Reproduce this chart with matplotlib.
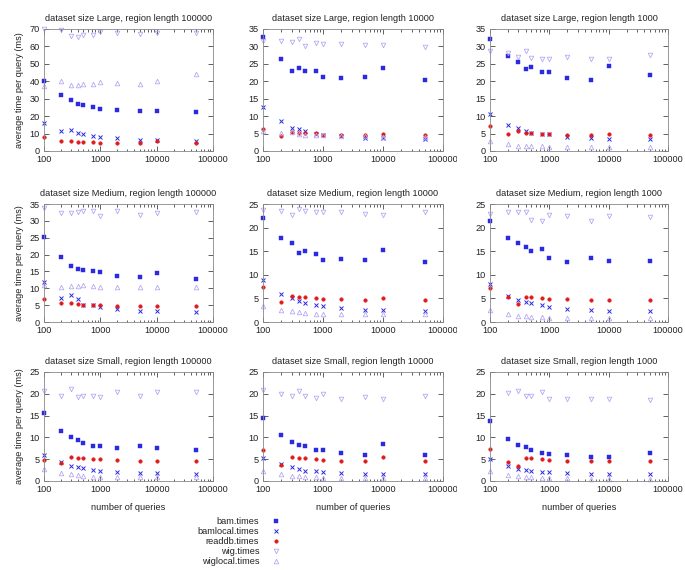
import numpy as np
import matplotlib
matplotlib.use("Agg")
import matplotlib.pyplot as plt
from matplotlib.transforms import Bbox, TransformedBbox

plt.rcParams['font.family'] = ['Liberation Sans', 'DejaVu Sans']

# number of queries (x values shared by every panel)
n_queries = [100, 200, 300, 400, 500, 750, 1000, 2000, 5000, 10000, 50000]

sizes = ["Large", "Medium", "Small"]
region_lengths = [100000, 10000, 1000]
series_names = ["bam.times", "bamlocal.times", "readdb.times", "wig.times", "wiglocal.times"]

# one row per region length (100000, 10000, 1000)
bam_large = [
    [40.2, 32.3, 29.0, 27.1, 26.2, 25.4, 24.2, 23.5, 22.9, 23.1, 22.5],
    [32.6, 26.3, 22.9, 23.9, 23.0, 23.0, 21.2, 20.9, 21.1, 23.8, 20.3],
    [32.1, 27.3, 25.4, 23.5, 24.2, 22.8, 22.7, 21.0, 20.4, 24.4, 21.7],
]
bamlocal_large = [
    [16.3, 11.3, 11.9, 10.6, 10.0, 8.8, 8.3, 7.3, 6.2, 6.2, 6.0],
    [12.5, 8.6, 6.7, 6.2, 5.7, 5.0, 4.6, 4.4, 3.75, 3.65, 3.55],
    [10.7, 7.6, 6.6, 5.8, 5.3, 4.9, 4.8, 3.9, 3.65, 3.4, 3.3],
]
readdb_large = [
    [7.9, 5.8, 5.6, 5.2, 5.2, 5.0, 4.8, 4.6, 4.6, 5.8, 4.6],
    [6.25, 4.4, 5.5, 5.3, 5.3, 5.2, 4.7, 4.7, 4.6, 5.0, 4.5],
    [7.3, 4.8, 5.7, 5.3, 5.2, 5.0, 4.9, 4.7, 4.6, 4.8, 4.7],
]
wig_large = [
    [69.8, 69.2, 66.2, 65.6, 66.5, 66.3, 68.5, 67.7, 67.1, 67.9, 67.7],
    [31.6, 31.5, 31.4, 32.2, 30.1, 30.9, 30.8, 30.6, 30.3, 30.3, 29.8],
    [28.7, 28.1, 27.1, 28.6, 26.6, 26.5, 26.5, 26.9, 26.3, 26.4, 27.4],
]
wiglocal_large = [
    [37.3, 40.2, 38.1, 37.7, 38.5, 38.3, 39.4, 38.8, 38.7, 40.0, 44.2],
    [5.6, 5.2, 5.4, 5.0, 4.6, 4.7, 4.7, 4.4, 4.2, 4.0, 4.0],
    [2.8, 1.9, 1.5, 1.45, 1.4, 1.3, 1.25, 1.2, 1.15, 1.15, 1.1],
]

bam_medium = [
    [25.3, 19.3, 16.6, 15.6, 15.3, 15.0, 14.9, 13.7, 13.4, 14.6, 12.9],
    [22.0, 17.7, 16.8, 14.7, 15.0, 14.5, 13.2, 13.4, 13.2, 15.3, 12.8],
    [21.4, 17.8, 16.8, 15.8, 15.0, 15.5, 13.5, 12.8, 13.5, 13.0, 13.0],
]
bamlocal_medium = [
    [11.9, 7.2, 8.1, 6.7, 5.0, 5.0, 4.4, 3.9, 3.3, 3.2, 3.1],
    [8.8, 6.0, 5.1, 4.4, 4.1, 3.5, 3.3, 2.9, 2.6, 2.5, 2.3],
    [8.0, 5.6, 4.7, 4.3, 4.0, 3.5, 3.2, 2.8, 2.5, 2.4, 2.3],
]
readdb_medium = [
    [6.8, 5.6, 5.5, 5.3, 5.1, 5.1, 4.9, 4.7, 4.6, 4.8, 4.6],
    [7.4, 4.2, 5.5, 5.3, 5.2, 5.0, 4.9, 4.8, 4.7, 5.1, 4.7],
    [7.3, 5.3, 3.8, 5.3, 5.2, 5.0, 4.9, 4.8, 4.7, 4.7, 4.7],
]
wig_medium = [
    [33.8, 32.4, 32.3, 32.7, 32.9, 32.8, 31.4, 32.8, 31.6, 32.3, 32.6],
    [23.8, 23.5, 22.6, 24.0, 23.6, 23.4, 23.4, 23.4, 22.9, 22.6, 23.4],
    [22.8, 23.2, 23.2, 23.2, 21.7, 21.5, 22.6, 22.5, 21.3, 22.5, 22.3],
]
wiglocal_medium = [
    [11.0, 10.5, 10.6, 10.8, 11.0, 10.8, 10.3, 10.5, 10.4, 10.4, 10.5],
    [3.3, 2.5, 2.3, 2.1, 1.9, 1.7, 1.7, 1.6, 1.6, 1.6, 1.6],
    [2.6, 1.6, 1.3, 1.2, 1.15, 1.0, 0.9, 0.9, 0.8, 0.8, 0.75],
]

bam_small = [
    [15.6, 11.5, 10.0, 9.5, 8.7, 8.1, 8.0, 7.5, 8.0, 7.5, 7.1],
    [14.4, 10.5, 8.9, 8.2, 8.1, 7.2, 7.0, 6.4, 6.0, 8.6, 6.0],
    [13.7, 9.7, 8.3, 7.7, 7.0, 6.4, 6.3, 5.9, 5.6, 5.6, 6.5],
]
bamlocal_small = [
    [5.9, 4.3, 3.4, 3.1, 2.9, 2.6, 2.4, 2.1, 1.8, 1.8, 1.6],
    [5.3, 3.8, 3.1, 2.7, 2.4, 2.2, 2.1, 1.8, 1.7, 1.7, 1.5],
    [5.0, 3.4, 2.8, 2.6, 2.4, 2.1, 2.1, 1.8, 1.6, 1.6, 1.5],
]
readdb_small = [
    [4.9, 4.1, 5.5, 5.3, 5.2, 5.0, 5.0, 4.8, 4.7, 4.7, 4.7],
    [7.2, 3.7, 5.5, 5.3, 5.2, 5.0, 4.9, 4.7, 4.6, 5.4, 4.5],
    [7.3, 4.3, 3.5, 5.3, 5.2, 5.0, 4.9, 4.7, 4.6, 4.6, 4.6],
]
wig_small = [
    [20.7, 19.6, 21.1, 19.3, 19.6, 19.5, 19.3, 20.3, 19.6, 20.3, 20.3],
    [20.9, 19.9, 19.5, 20.6, 19.5, 19.1, 19.9, 18.9, 19.3, 18.9, 19.6],
    [np.nan, 20.2, 20.6, 19.6, 19.4, 20.3, 18.7, 18.7, 18.9, 18.9, 18.6],
]
wiglocal_small = [
    [2.7, 1.8, 1.5, 1.3, 1.2, 1.0, 1.0, 0.9, 0.85, 0.85, 0.85],
    [2.4, 1.5, 1.2, 1.1, 1.0, 0.85, 0.75, 0.6, 0.6, 0.6, 0.6],
    [2.3, 1.4, 1.1, 1.0, 0.9, 0.8, 0.7, 0.6, 0.5, 0.5, 0.5],
]

# y axis upper limits per panel (rows = sizes, cols = region lengths)
y_max = [[70, 35, 35], [35, 25, 25], [25, 25, 25]]

data = {
    "Large": [bam_large, bamlocal_large, readdb_large, wig_large, wiglocal_large],
    "Medium": [bam_medium, bamlocal_medium, readdb_medium, wig_medium, wiglocal_medium],
    "Small": [bam_small, bamlocal_small, readdb_small, wig_small, wiglocal_small],
}

blue = '#2a2ae0'
red = '#e01a1a'
lav = '#b8a8f2'
styles = [
    dict(marker='s', ms=2.2, color=blue, mec=blue, mew=0.3),
    dict(marker='x', ms=2.8, color=blue, mec=blue, mew=0.7),
    dict(marker='o', ms=2.6, color=red, mec=red, mew=0.3),
    dict(marker='v', ms=3.3, color=lav, mfc='none', mec=lav, mew=0.6),
    dict(marker='^', ms=3.3, color=lav, mfc='none', mec=lav, mew=0.6),
]

fs = 6.6
fig = plt.figure(figsize=(6.85, 5.7), dpi=100)

W, H = 685.0, 570.0
col_px = [(44, 169), (263, 180), (490, 178)]
row_px = [(29, 151), (204, 322), (372, 481)]

for r, size in enumerate(sizes):
    for c, rl in enumerate(region_lengths):
        x0, w = col_px[c]
        top, bot = row_px[r]
        ax = fig.add_axes([x0 / W, 1 - bot / H, w / W, (bot - top) / H])
        for s, st in enumerate(styles):
            ax.plot(n_queries, data[size][s][c], linestyle='none', clip_on=False, **st)
        ax.set_xscale('log')
        ax.set_xlim(100, 100000)
        ax.set_ylim(0, y_max[r][c])
        step = 10 if y_max[r][c] > 40 else 5
        ax.set_yticks(np.arange(0, y_max[r][c] + 1, step))
        ax.set_xticks([100, 1000, 10000, 100000])
        ax.set_xticklabels(['100', '1000', '10000', '100000'])
        ax.tick_params(which='both', direction='in', top=True, right=True,
                       labelsize=fs, colors='#222222', width=0.5)
        ax.tick_params(which='major', length=3.5, pad=3)
        ax.tick_params(which='minor', length=1.8)
        ax.tick_params(axis='y', which='minor', left=False, right=False)
        for sp in ax.spines.values():
            sp.set_color('#888888')
            sp.set_linewidth(0.6)
        ax.set_title(f"dataset size {size}, region length {rl}", fontsize=fs,
                     color='#222222', pad=6)
        if c == 0:
            ax.set_ylabel("average time per query (ms)", fontsize=fs, color='#222222',
                          labelpad=4)
        if r == 2:
            ax.set_xlabel("number of queries", fontsize=fs, color='#222222', labelpad=6)
        # gnuplot multiplot cells clip labels at their edges
        cell = TransformedBbox(Bbox([[c / 3, 0], [(c + 1) / 3, 1]]), fig.transFigure)
        for t in ax.get_xticklabels():
            t.set_clip_box(cell)
            t.set_clip_on(True)

# legend drawn in its own small axes, labels right-aligned like gnuplot's key
lax = fig.add_axes([150 / W, 1 - 566 / H, 140 / W, 50 / H])
lax.set_xlim(0, 1)
lax.set_ylim(0, 5)
lax.axis('off')
for i, (name, st) in enumerate(zip(series_names, styles)):
    yy = 4.5 - i
    lax.text(0.78, yy, name, ha='right', va='center', fontsize=fs, color='#222222')
    lax.plot([0.9], [yy], linestyle='none', **st)

fig.savefig("out.png", dpi=100)
